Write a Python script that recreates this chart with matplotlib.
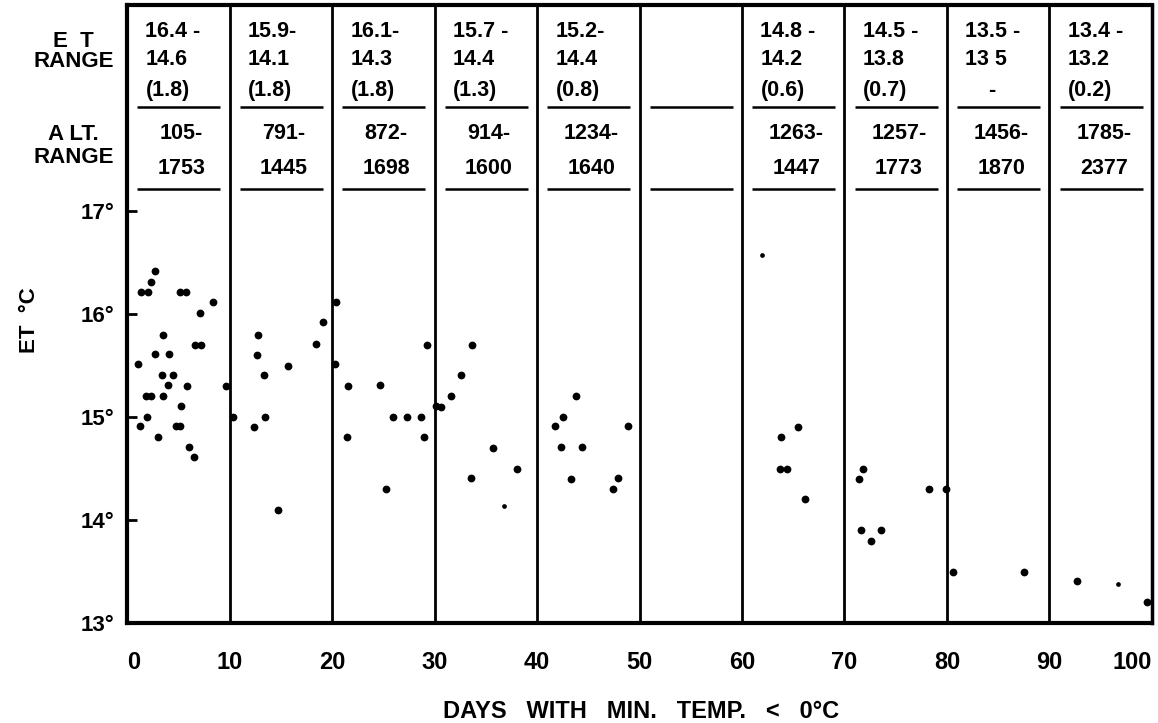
import numpy as np
import matplotlib
matplotlib.use("Agg")
import matplotlib.pyplot as plt

plt.rcParams["font.family"] = ["Liberation Sans", "DejaVu Sans"]
plt.rcParams["font.weight"] = "bold"

# days with min. temp < 0 C  vs  ET (deg C)
days = [2.7, 2.3, 1.4, 2.05, 5.15, 5.8, 8.35, 7.15, 3.5, 6.6, 7.25, 2.75, 4.05, 1.1,
        3.4, 4.5, 4.0, 5.85, 9.65, 1.85, 2.35, 3.55, 5.3, 1.95, 1.25, 4.75, 5.15, 3.05,
        6.0, 6.55,
        10.3, 12.75, 12.7, 13.4, 15.7, 18.45, 19.1, 12.35, 13.5, 14.75,
        20.4, 20.3, 21.6, 24.65, 21.5, 25.95, 27.35, 28.7, 28.95, 29.25, 25.3,
        30.1, 30.6, 33.65, 32.55, 31.65, 35.75, 38.05, 33.6,
        43.8, 42.5, 41.75, 48.85, 42.3, 44.35, 43.3, 47.9, 47.45,
        63.8, 65.45, 63.7, 64.4, 66.15,
        71.85, 71.4, 71.65, 73.55, 72.6, 78.25, 79.95,
        80.55, 87.5,
        92.65, 99.5]
et = [16.42, 16.31, 16.21, 16.21, 16.21, 16.21, 16.12, 16.01, 15.8, 15.7, 15.7, 15.61,
      15.61, 15.51, 15.41, 15.41, 15.31, 15.3, 15.3, 15.2, 15.2, 15.2, 15.11, 15.0,
      14.91, 14.91, 14.91, 14.81, 14.71, 14.61,
      15.0, 15.8, 15.6, 15.41, 15.5, 15.71, 15.92, 14.9, 15.0, 14.1,
      16.12, 15.51, 15.3, 15.31, 14.81, 15.0, 15.0, 15.0, 14.81, 15.7, 14.3,
      15.11, 15.1, 15.7, 15.41, 15.2, 14.7, 14.5, 14.41,
      15.2, 15.0, 14.91, 14.91, 14.71, 14.71, 14.4, 14.41, 14.3,
      14.81, 14.9, 14.5, 14.5, 14.2,
      14.5, 14.4, 13.9, 13.9, 13.8, 14.3, 14.3,
      13.5, 13.5,
      13.41, 13.2]

# faint small dots
speck_days = [62.0, 36.8, 96.7]
speck_et = [16.57, 14.14, 13.38]

col_left = [0, 10, 20, 30, 40, 50, 60, 70, 80, 90]
et_range = [["16.4 -", "14.6", "(1.8)"], ["15.9-", "14.1", "(1.8)"],
            ["16.1-", "14.3", "(1.8)"], ["15.7 -", "14.4", "(1.3)"],
            ["15.2-", "14.4", "(0.8)"], ["", "", ""],
            ["14.8 -", "14.2", "(0.6)"], ["14.5 -", "13.8", "(0.7)"],
            ["13.5 -", "13 5", "    -"], ["13.4 -", "13.2", "(0.2)"]]
alt_range = [["105-", "1753"], ["791-", "1445"], ["872-", "1698"], ["914-", "1600"],
             ["1234-", "1640"], ["", ""], ["1263-", "1447"], ["1257-", "1773"],
             ["1456-", "1870"], ["1785-", "2377"]]

xticks = [0, 10, 20, 30, 40, 50, 60, 70, 80, 90, 100]
yticks = [13, 14, 15, 16, 17]

fig = plt.figure(figsize=(11.58, 7.23), dpi=100)
ax = fig.add_axes([0.1097, 0.1383, 0.8851, 0.8548])
ax.set_xlim(0, 100)
ax.set_ylim(13, 19)

for s in ["left", "bottom", "top"]:
    ax.spines[s].set_linewidth(3)
ax.spines["right"].set_linewidth(2.5)

ax.vlines(col_left[1:], 13, 19, color="black", lw=2)

ax.plot(days, et, "o", color="black", ms=5.6, mec="none")
ax.plot(speck_days, speck_et, "o", color="black", ms=3.4, mec="none")

# table at the top
et_rows = [18.74, 18.47, 18.17]
alt_rows = [17.75, 17.41]
for c, etr, altr in zip(col_left, et_range, alt_range):
    for yy, t in zip(et_rows, etr):
        ax.text(c + 1.8, yy, t, ha="left", va="center", fontsize=15.5, fontweight="bold")
    for yy, t in zip(alt_rows, altr):
        ax.text(c + 5.3, yy, t, ha="center", va="center", fontsize=15.5, fontweight="bold")
    ax.hlines([18.01, 17.21], c + 1.0, c + 9.1, color="black", lw=1.8)

for yy, t in zip([18.65, 18.45, 17.74, 17.52], ["E  T", "RANGE", "A LT.", "RANGE"]):
    ax.text(-5.2, yy, t, ha="center", va="center", fontsize=16, fontweight="bold",
            clip_on=False)

ax.set_yticks(yticks)
ax.set_yticklabels([f"{v}°" for v in yticks], fontsize=16, fontweight="bold")
ax.tick_params(axis="y", direction="in", length=7, width=2, pad=9)
ax.set_xticks(xticks)
ax.set_xticklabels([str(v) for v in xticks], fontsize=17, fontweight="bold")
ax.tick_params(axis="x", length=0, pad=20)
xl = ax.get_xticklabels()
xl[0].set_horizontalalignment("left")
xl[-1].set_horizontalalignment("right")

fig.text(641 / 1158, 1 - 711 / 723, "DAYS   WITH   MIN.   TEMP.   <   0°C",
         ha="center", va="center", fontsize=17, fontweight="bold")
fig.text(30 / 1158, 1 - 320 / 723, "ET  °C", rotation=90, ha="center", va="center",
         fontsize=16, fontweight="bold")

fig.savefig("out.png", dpi=100, facecolor="white")
